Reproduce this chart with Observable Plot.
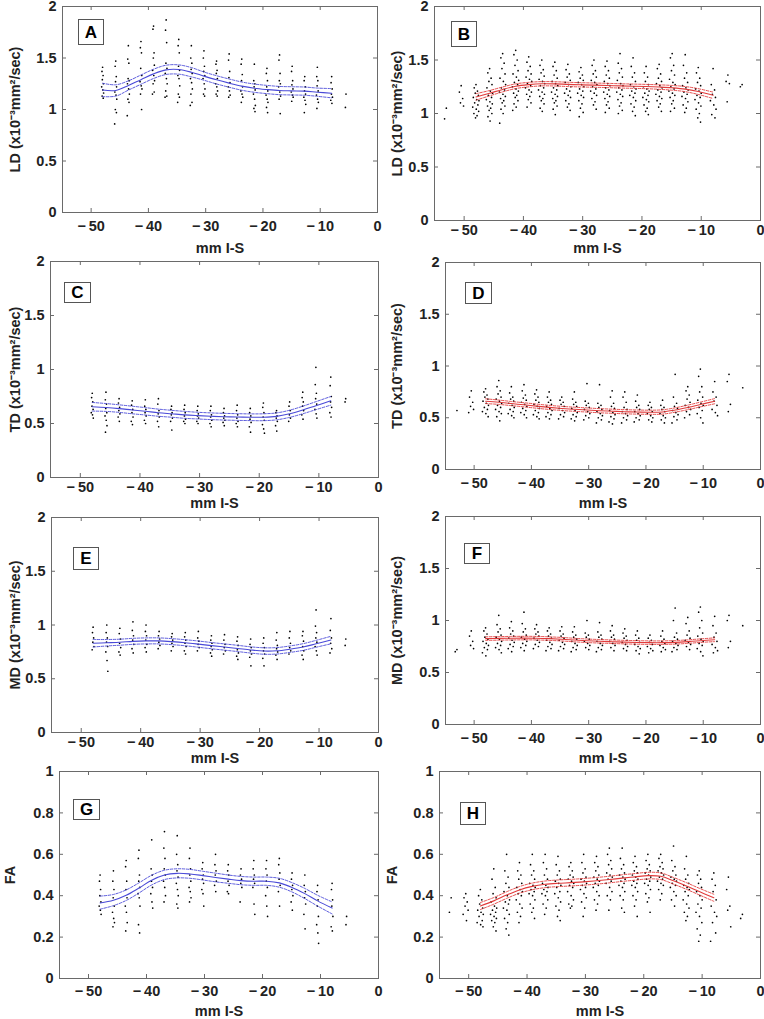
<!DOCTYPE html>
<html><head><meta charset="utf-8">
<script src="https://cdn.jsdelivr.net/npm/d3@7"></script>
<script src="https://cdn.jsdelivr.net/npm/@observablehq/plot@0.6"></script>
<style>
html,body{margin:0;padding:0;background:#fff;overflow:hidden}
#fig{position:relative;width:764px;height:1019px;overflow:hidden;font-family:"Liberation Sans",Arial,sans-serif}
#fig svg{position:absolute}
.tag{position:absolute;box-sizing:border-box;border:1px solid #555;background:#fff;font-weight:bold;font-size:17px;display:flex;align-items:center;justify-content:center;color:#000;line-height:1}
</style></head><body><div id="fig"></div>
<script>
// ---------- data ----------
const xTicks = [-50, -40, -30, -20, -10, 0];
const yTicksDiff = [0, 0.5, 1, 1.5, 2];
const yTicksFA = [0, 0.2, 0.4, 0.6, 0.8, 1];
const xLabel = "mm I-S";
const labelLD = "LD (x10⁻³mm²/sec)";
const labelTD = "TD (x10⁻³mm²/sec)";
const labelMD = "MD (x10⁻³mm²/sec)";
const labelFA = "FA";
const panelLetters = ["A", "B", "C", "D", "E", "F", "G", "H"];

// fitted curve sample positions (mm I-S)
const fitX = [-48,-45.7,-43.5,-41.3,-39.1,-36.9,-34.7,-32.5,-30.3,-28.1,-25.9,-23.7,-21.5,-19.3,-17.1,-14.9,-12.7,-10.5,-8];

const fitMidA = [1.19,1.185,1.233,1.29,1.346,1.385,1.388,1.362,1.324,1.288,1.256,1.227,1.207,1.194,1.184,1.181,1.178,1.168,1.158];
const fitHiA  = [1.255,1.24,1.278,1.335,1.391,1.43,1.433,1.407,1.364,1.328,1.296,1.267,1.247,1.234,1.224,1.221,1.218,1.208,1.203];
const fitLoA  = [1.125,1.13,1.188,1.245,1.301,1.34,1.343,1.317,1.284,1.248,1.216,1.187,1.167,1.154,1.144,1.141,1.138,1.128,1.113];

const fitMidB = [1.155,1.19,1.225,1.255,1.27,1.278,1.277,1.272,1.268,1.265,1.262,1.258,1.255,1.252,1.247,1.24,1.228,1.205,1.17];
const fitHiB  = [1.185,1.215,1.248,1.277,1.291,1.298,1.297,1.292,1.288,1.285,1.282,1.278,1.275,1.272,1.268,1.262,1.252,1.232,1.2];
const fitLoB  = [1.125,1.165,1.202,1.233,1.249,1.258,1.257,1.252,1.248,1.245,1.242,1.238,1.235,1.232,1.226,1.218,1.204,1.178,1.14];

const fitMidC = [0.655,0.648,0.638,0.625,0.613,0.6,0.59,0.58,0.573,0.567,0.563,0.56,0.558,0.558,0.566,0.59,0.625,0.665,0.71];
const fitHiC  = [0.695,0.685,0.673,0.66,0.647,0.633,0.622,0.612,0.604,0.598,0.594,0.591,0.589,0.59,0.598,0.623,0.66,0.702,0.75];
const fitLoC  = [0.615,0.612,0.603,0.59,0.579,0.567,0.558,0.548,0.542,0.536,0.532,0.529,0.527,0.526,0.534,0.557,0.59,0.628,0.67];

const fitMidD = [0.66,0.65,0.637,0.625,0.612,0.6,0.59,0.582,0.575,0.568,0.563,0.558,0.555,0.553,0.556,0.575,0.6,0.628,0.66];
const fitHiD  = [0.683,0.671,0.657,0.645,0.632,0.62,0.61,0.602,0.595,0.588,0.583,0.578,0.575,0.573,0.577,0.596,0.622,0.651,0.685];
const fitLoD  = [0.637,0.629,0.617,0.605,0.592,0.58,0.57,0.562,0.555,0.548,0.543,0.538,0.535,0.533,0.535,0.554,0.578,0.605,0.635];

const fitMidE = [0.83,0.835,0.84,0.848,0.852,0.852,0.845,0.835,0.822,0.808,0.795,0.782,0.768,0.758,0.76,0.775,0.795,0.825,0.86];
const fitHiE  = [0.865,0.865,0.868,0.876,0.88,0.88,0.873,0.863,0.851,0.837,0.824,0.811,0.797,0.788,0.79,0.805,0.826,0.857,0.895];
const fitLoE  = [0.795,0.805,0.812,0.82,0.824,0.824,0.817,0.807,0.793,0.779,0.766,0.753,0.739,0.728,0.73,0.745,0.764,0.793,0.825];

const fitMidF = [0.826,0.828,0.83,0.831,0.83,0.826,0.82,0.812,0.805,0.8,0.796,0.792,0.789,0.787,0.787,0.79,0.797,0.806,0.815];
const fitHiF  = [0.843,0.845,0.847,0.848,0.847,0.843,0.837,0.829,0.822,0.817,0.813,0.809,0.806,0.804,0.804,0.807,0.814,0.823,0.833];
const fitLoF  = [0.809,0.811,0.813,0.814,0.813,0.809,0.803,0.795,0.788,0.783,0.779,0.775,0.772,0.77,0.77,0.773,0.78,0.789,0.797];

const fitMidG = [0.365,0.378,0.402,0.437,0.475,0.5,0.508,0.505,0.497,0.488,0.48,0.473,0.47,0.47,0.462,0.44,0.41,0.375,0.34];
const fitHiG  = [0.398,0.406,0.428,0.462,0.499,0.523,0.53,0.527,0.518,0.509,0.5,0.493,0.49,0.49,0.484,0.463,0.435,0.402,0.37];
const fitLoG  = [0.335,0.352,0.377,0.413,0.452,0.478,0.486,0.484,0.476,0.467,0.46,0.453,0.45,0.45,0.441,0.418,0.386,0.35,0.312];

const fitMidH = [0.35,0.375,0.403,0.428,0.445,0.455,0.46,0.463,0.467,0.472,0.478,0.485,0.491,0.497,0.494,0.472,0.447,0.42,0.39];
const fitHiH  = [0.367,0.391,0.419,0.444,0.461,0.471,0.476,0.479,0.483,0.488,0.494,0.501,0.507,0.513,0.51,0.488,0.463,0.436,0.407];
const fitLoH  = [0.333,0.359,0.387,0.412,0.429,0.439,0.444,0.447,0.451,0.456,0.462,0.469,0.475,0.481,0.478,0.456,0.431,0.404,0.373];

// scatter: [slice position (mm I-S), values measured in that slice]
const ptsA = [
 [-48,[1.41,1.37,1.33,1.29,1.25,1.22,1.19,1.16,1.13,1.11]],
 [-45.7,[1.47,1.42,1.32,1.27,1.22,1.17,1.14,1.1,1.0,0.97,0.86]],
 [-43.5,[1.62,1.49,1.45,1.3,1.28,1.25,1.2,1.15,1.1,1.07,0.94]],
 [-41.3,[1.66,1.6,1.55,1.4,1.33,1.27,1.23,1.2,1.15,1.0]],
 [-39.1,[1.81,1.78,1.55,1.5,1.43,1.38,1.33,1.28,1.25,1.17,1.15]],
 [-36.9,[1.87,1.77,1.65,1.45,1.4,1.35,1.3,1.25,1.18,1.13,1.12]],
 [-34.7,[1.68,1.62,1.55,1.42,1.38,1.33,1.3,1.23,1.15,1.12,1.07]],
 [-32.5,[1.62,1.5,1.45,1.39,1.35,1.3,1.26,1.2,1.15,1.07,1.04]],
 [-30.3,[1.57,1.5,1.42,1.37,1.33,1.3,1.25,1.2,1.15,1.13]],
 [-28.1,[1.47,1.44,1.38,1.35,1.3,1.25,1.22,1.18,1.15,1.13]],
 [-25.9,[1.54,1.48,1.37,1.31,1.26,1.22,1.18,1.14,1.12]],
 [-23.7,[1.49,1.44,1.34,1.28,1.22,1.18,1.15,1.12,1.07]],
 [-21.5,[1.44,1.28,1.25,1.22,1.19,1.15,1.1,1.04,1.01,0.98]],
 [-19.3,[1.4,1.35,1.28,1.22,1.18,1.14,1.1,1.07,1.02,0.97]],
 [-17.1,[1.53,1.48,1.35,1.28,1.25,1.22,1.17,1.13,1.1,0.96]],
 [-14.9,[1.42,1.37,1.28,1.24,1.2,1.17,1.14,1.12,1.08]],
 [-12.7,[1.32,1.28,1.22,1.18,1.15,1.12,1.09,1.05,0.97]],
 [-10.5,[1.41,1.32,1.28,1.23,1.18,1.14,1.1,1.07,1.01]],
 [-8,[1.32,1.26,1.2,1.15,1.12,1.09,1.06]],
 [-5.5,[1.15,1.02]]
];
const ptsB = [
 [-53,[1.05,0.95]],
 [-50.5,[1.26,1.2,1.14,1.1,1.07]],
 [-48,[1.27,1.24,1.21,1.19,1.17,1.15,1.13,1.12,1.1,1.08,1.06,1.04,1.02,1.0,0.98,0.96]],
 [-45.7,[1.42,1.38,1.33,1.3,1.27,1.24,1.21,1.19,1.17,1.15,1.13,1.11,1.09,1.07,1.05,1.03,1.0,0.97,0.93]],
 [-43.5,[1.56,1.52,1.47,1.42,1.37,1.33,1.3,1.27,1.24,1.22,1.2,1.18,1.16,1.14,1.12,1.1,1.07,1.04,1.0,0.91]],
 [-41.3,[1.59,1.55,1.5,1.45,1.4,1.37,1.34,1.31,1.29,1.27,1.25,1.23,1.21,1.19,1.17,1.15,1.12,1.09,1.06,1.03]],
 [-39.1,[1.53,1.48,1.44,1.4,1.37,1.34,1.32,1.3,1.28,1.26,1.24,1.22,1.2,1.18,1.16,1.13,1.1,1.06]],
 [-36.9,[1.5,1.45,1.41,1.38,1.35,1.32,1.3,1.28,1.26,1.24,1.22,1.2,1.18,1.16,1.14,1.12,1.09,1.05,1.02]],
 [-34.7,[1.48,1.44,1.4,1.36,1.33,1.3,1.28,1.26,1.24,1.22,1.2,1.18,1.16,1.14,1.12,1.1,1.07,1.04,0.99]],
 [-32.5,[1.46,1.41,1.37,1.34,1.31,1.29,1.27,1.25,1.23,1.21,1.19,1.17,1.15,1.12,1.09,1.06,1.03]],
 [-30.3,[1.43,1.39,1.36,1.33,1.31,1.29,1.27,1.25,1.23,1.21,1.19,1.17,1.15,1.12,1.09,1.05,1.01,0.97]],
 [-28.1,[1.5,1.45,1.4,1.37,1.34,1.31,1.29,1.27,1.25,1.23,1.21,1.19,1.17,1.14,1.11,1.08,1.04]],
 [-25.9,[1.49,1.44,1.4,1.36,1.33,1.3,1.28,1.26,1.24,1.22,1.2,1.18,1.16,1.14,1.11,1.08,1.05,1.01]],
 [-23.7,[1.56,1.47,1.42,1.38,1.34,1.31,1.28,1.26,1.24,1.22,1.2,1.18,1.16,1.13,1.1,1.07,1.03,1.0]],
 [-21.5,[1.52,1.44,1.38,1.34,1.3,1.27,1.25,1.23,1.21,1.19,1.17,1.15,1.12,1.09,1.06,1.02,0.98]],
 [-19.3,[1.44,1.38,1.34,1.3,1.27,1.25,1.23,1.21,1.19,1.17,1.15,1.13,1.11,1.08,1.05,1.02,0.99]],
 [-17.1,[1.46,1.42,1.37,1.33,1.3,1.28,1.26,1.24,1.22,1.2,1.18,1.16,1.14,1.12,1.09,1.06,1.02]],
 [-14.9,[1.56,1.52,1.45,1.4,1.36,1.32,1.29,1.27,1.25,1.23,1.21,1.19,1.17,1.15,1.12,1.09,1.05,1.02]],
 [-12.7,[1.55,1.45,1.38,1.33,1.29,1.26,1.24,1.22,1.2,1.18,1.16,1.14,1.11,1.08,1.05,1.01]],
 [-10.5,[1.43,1.38,1.33,1.29,1.26,1.23,1.21,1.19,1.17,1.15,1.13,1.1,1.07,1.04,1.0,0.96,0.92]],
 [-8,[1.42,1.27,1.22,1.18,1.15,1.12,1.08,1.04,0.99,0.96]],
 [-5.5,[1.36,1.3,1.28,1.11]],
 [-3.1,[1.27,1.25]]
];
const ptsC = [
 [-48,[0.78,0.74,0.7,0.66,0.63,0.6,0.58,0.55]],
 [-45.7,[0.79,0.72,0.68,0.64,0.6,0.57,0.53,0.48,0.42]],
 [-43.5,[0.73,0.69,0.65,0.62,0.59,0.56,0.52]],
 [-41.3,[0.71,0.67,0.63,0.6,0.56,0.52,0.49]],
 [-39.1,[0.72,0.66,0.63,0.6,0.57,0.53,0.5]],
 [-36.9,[0.73,0.68,0.62,0.59,0.56,0.52,0.47]],
 [-34.7,[0.66,0.63,0.6,0.58,0.55,0.52,0.44]],
 [-32.5,[0.67,0.63,0.6,0.57,0.54,0.52,0.5]],
 [-30.3,[0.66,0.62,0.59,0.57,0.55,0.52,0.5]],
 [-28.1,[0.66,0.62,0.58,0.56,0.53,0.5,0.47]],
 [-25.9,[0.64,0.6,0.57,0.55,0.53,0.51,0.48]],
 [-23.7,[0.67,0.62,0.58,0.55,0.52,0.5,0.47]],
 [-21.5,[0.64,0.6,0.57,0.54,0.51,0.47,0.42]],
 [-19.3,[0.69,0.65,0.6,0.56,0.53,0.49,0.45,0.41]],
 [-17.1,[0.62,0.6,0.57,0.55,0.52,0.48,0.43]],
 [-14.9,[0.7,0.66,0.62,0.58,0.55,0.52]],
 [-12.7,[0.79,0.74,0.7,0.66,0.62,0.58,0.54]],
 [-10.5,[1.02,0.86,0.78,0.73,0.68,0.63,0.59,0.55]],
 [-8,[0.93,0.85,0.75,0.7,0.65,0.6,0.56]],
 [-5.5,[0.73,0.7]]
];
const ptsD = [
 [-53,[0.57]],
 [-50.5,[0.76,0.7,0.65,0.61,0.58,0.55]],
 [-48,[0.78,0.75,0.72,0.7,0.68,0.66,0.64,0.62,0.6,0.58,0.56,0.54,0.51]],
 [-45.7,[0.86,0.8,0.76,0.73,0.7,0.68,0.66,0.64,0.62,0.6,0.58,0.56,0.54,0.51,0.47]],
 [-43.5,[0.8,0.74,0.7,0.68,0.66,0.64,0.62,0.6,0.58,0.56,0.54,0.52,0.5]],
 [-41.3,[0.82,0.76,0.72,0.69,0.67,0.65,0.63,0.61,0.59,0.57,0.55,0.53,0.5]],
 [-39.1,[0.77,0.73,0.7,0.67,0.65,0.63,0.61,0.59,0.57,0.55,0.53,0.51,0.49]],
 [-36.9,[0.75,0.7,0.67,0.65,0.63,0.61,0.59,0.57,0.55,0.53,0.51,0.49]],
 [-34.7,[0.7,0.67,0.65,0.63,0.61,0.59,0.57,0.55,0.53,0.51,0.49]],
 [-32.5,[0.75,0.68,0.65,0.63,0.61,0.59,0.57,0.55,0.53,0.51,0.49,0.47]],
 [-30.3,[0.83,0.66,0.64,0.62,0.6,0.58,0.56,0.54,0.52,0.5,0.48]],
 [-28.1,[0.82,0.64,0.62,0.6,0.58,0.56,0.54,0.52,0.5,0.48,0.45]],
 [-25.9,[0.76,0.7,0.64,0.61,0.59,0.57,0.55,0.53,0.51,0.49,0.46,0.44]],
 [-23.7,[0.75,0.7,0.65,0.6,0.58,0.56,0.54,0.52,0.5,0.48,0.45]],
 [-21.5,[0.72,0.66,0.62,0.6,0.58,0.56,0.54,0.52,0.5,0.48,0.46]],
 [-19.3,[0.65,0.62,0.6,0.58,0.56,0.54,0.52,0.5,0.48,0.46]],
 [-17.1,[0.67,0.62,0.6,0.58,0.56,0.54,0.52,0.5,0.48,0.45]],
 [-14.9,[0.92,0.7,0.64,0.61,0.59,0.57,0.55,0.53,0.51,0.48,0.45]],
 [-12.7,[0.8,0.76,0.72,0.68,0.65,0.62,0.6,0.58,0.56,0.53,0.5]],
 [-10.5,[0.97,0.9,0.8,0.75,0.7,0.67,0.64,0.62,0.6,0.57,0.54,0.5,0.45]],
 [-8,[0.85,0.75,0.7,0.66,0.62,0.58,0.55,0.52]],
 [-5.5,[0.92,0.85,0.63,0.56]],
 [-3.1,[0.79]]
];
const ptsE = [
 [-48,[0.98,0.93,0.88,0.84,0.8,0.77]],
 [-45.7,[1.0,0.93,0.88,0.84,0.8,0.75,0.67,0.57]],
 [-43.5,[0.97,0.92,0.87,0.83,0.79,0.75,0.72]],
 [-41.3,[1.03,0.95,0.9,0.86,0.82,0.78,0.74]],
 [-39.1,[1.0,0.94,0.9,0.86,0.82,0.79,0.75]],
 [-36.9,[0.94,0.9,0.87,0.84,0.81,0.78]],
 [-34.7,[0.92,0.89,0.86,0.83,0.8,0.76]],
 [-32.5,[0.93,0.89,0.86,0.83,0.8,0.76,0.73]],
 [-30.3,[0.94,0.88,0.85,0.82,0.79,0.76]],
 [-28.1,[0.9,0.86,0.83,0.8,0.77,0.74,0.71]],
 [-25.9,[0.91,0.86,0.82,0.79,0.76,0.73]],
 [-23.7,[0.89,0.85,0.81,0.77,0.74,0.71,0.68]],
 [-21.5,[0.87,0.82,0.79,0.76,0.73,0.7,0.62]],
 [-19.3,[0.88,0.83,0.79,0.76,0.73,0.69,0.62]],
 [-17.1,[0.93,0.86,0.81,0.78,0.75,0.72,0.68]],
 [-14.9,[0.94,0.88,0.83,0.79,0.76,0.73]],
 [-12.7,[0.94,0.9,0.85,0.8,0.76,0.72,0.68]],
 [-10.5,[1.14,0.99,0.93,0.88,0.84,0.8,0.76,0.72]],
 [-8,[1.06,0.95,0.88,0.83,0.78,0.74]],
 [-5.5,[0.87,0.81]]
];
const ptsF = [
 [-53,[0.72,0.7]],
 [-50.5,[0.9,0.85,0.8,0.76,0.73]],
 [-48,[0.93,0.9,0.87,0.84,0.82,0.8,0.78,0.76,0.74,0.72,0.69,0.66]],
 [-45.7,[1.05,0.96,0.92,0.89,0.86,0.84,0.82,0.8,0.78,0.76,0.74,0.72,0.69]],
 [-43.5,[0.99,0.93,0.9,0.87,0.85,0.83,0.81,0.79,0.77,0.75,0.73,0.7]],
 [-41.3,[1.08,0.97,0.92,0.89,0.86,0.84,0.82,0.8,0.78,0.76,0.74,0.71]],
 [-39.1,[0.96,0.92,0.89,0.87,0.85,0.83,0.81,0.79,0.77,0.75,0.73]],
 [-36.9,[0.93,0.9,0.87,0.85,0.83,0.81,0.79,0.77,0.75,0.73,0.71]],
 [-34.7,[0.94,0.9,0.87,0.85,0.83,0.81,0.79,0.77,0.75,0.73,0.71]],
 [-32.5,[0.94,0.89,0.86,0.84,0.82,0.8,0.78,0.76,0.74,0.72,0.7]],
 [-30.3,[1.0,0.88,0.86,0.84,0.82,0.8,0.78,0.76,0.74,0.72]],
 [-28.1,[0.98,0.89,0.86,0.84,0.82,0.8,0.78,0.76,0.74,0.72,0.7]],
 [-25.9,[0.95,0.9,0.86,0.84,0.82,0.8,0.78,0.76,0.74,0.71]],
 [-23.7,[0.92,0.88,0.85,0.83,0.81,0.79,0.77,0.75,0.73,0.71]],
 [-21.5,[0.9,0.86,0.83,0.81,0.79,0.77,0.75,0.73,0.71,0.68]],
 [-19.3,[0.86,0.83,0.81,0.79,0.77,0.75,0.73,0.71,0.69]],
 [-17.1,[0.9,0.85,0.82,0.8,0.78,0.76,0.74,0.72,0.7]],
 [-14.9,[1.12,1.0,0.88,0.84,0.82,0.8,0.78,0.76,0.74,0.72,0.7]],
 [-12.7,[1.03,0.97,0.9,0.86,0.83,0.81,0.79,0.77,0.75,0.72]],
 [-10.5,[1.13,1.08,1.0,0.93,0.88,0.85,0.82,0.8,0.78,0.76,0.73,0.7,0.66]],
 [-8,[1.04,0.95,0.88,0.84,0.8,0.77,0.74,0.71,0.69]],
 [-5.5,[1.05,1.0,0.8,0.74]],
 [-3.1,[0.95]]
];
const ptsG = [
 [-48,[0.5,0.47,0.43,0.4,0.37,0.35,0.33,0.31]],
 [-45.7,[0.52,0.47,0.43,0.39,0.35,0.32,0.29,0.27,0.25]],
 [-43.5,[0.57,0.54,0.47,0.43,0.39,0.35,0.32,0.27,0.23]],
 [-41.3,[0.62,0.58,0.5,0.47,0.44,0.41,0.39,0.35,0.26,0.22]],
 [-39.1,[0.67,0.53,0.5,0.47,0.44,0.41,0.37,0.34]],
 [-36.9,[0.71,0.63,0.58,0.53,0.5,0.47,0.44,0.4,0.37]],
 [-34.7,[0.69,0.6,0.55,0.52,0.49,0.46,0.43,0.4,0.36,0.34]],
 [-32.5,[0.63,0.58,0.53,0.5,0.47,0.44,0.42,0.39,0.37]],
 [-30.3,[0.56,0.53,0.5,0.48,0.46,0.43,0.41,0.35]],
 [-28.1,[0.6,0.55,0.52,0.5,0.47,0.45,0.42]],
 [-25.9,[0.55,0.52,0.5,0.47,0.45,0.42,0.41]],
 [-23.7,[0.53,0.5,0.48,0.46,0.44,0.37]],
 [-21.5,[0.57,0.53,0.5,0.48,0.46,0.44,0.36,0.31]],
 [-19.3,[0.57,0.53,0.5,0.47,0.44,0.4,0.35,0.3]],
 [-17.1,[0.58,0.55,0.51,0.48,0.45,0.42,0.35]],
 [-14.9,[0.51,0.48,0.45,0.43,0.4,0.37,0.33]],
 [-12.7,[0.5,0.45,0.42,0.39,0.36,0.31,0.24]],
 [-10.5,[0.45,0.42,0.38,0.35,0.3,0.26,0.22,0.17]],
 [-8,[0.46,0.43,0.38,0.35,0.3,0.25,0.23]],
 [-5.5,[0.3,0.26]]
];
const ptsH = [
 [-53,[0.39,0.32]],
 [-50.5,[0.41,0.39,0.37,0.35,0.33,0.31,0.28]],
 [-48,[0.43,0.4,0.38,0.36,0.34,0.33,0.32,0.31,0.3,0.28,0.27,0.26,0.25]],
 [-45.7,[0.53,0.48,0.44,0.41,0.39,0.37,0.35,0.34,0.33,0.32,0.31,0.3,0.29,0.28,0.27,0.25,0.23]],
 [-43.5,[0.6,0.52,0.49,0.46,0.44,0.42,0.4,0.38,0.37,0.36,0.34,0.33,0.31,0.29,0.27,0.24,0.21]],
 [-41.3,[0.56,0.52,0.5,0.48,0.46,0.44,0.43,0.42,0.41,0.4,0.38,0.36,0.34,0.32,0.3,0.27]],
 [-39.1,[0.6,0.55,0.52,0.5,0.48,0.46,0.45,0.44,0.43,0.42,0.41,0.4,0.38,0.36,0.34,0.32,0.29]],
 [-36.9,[0.6,0.56,0.53,0.5,0.48,0.46,0.45,0.44,0.43,0.42,0.41,0.4,0.38,0.36,0.34,0.31]],
 [-34.7,[0.59,0.55,0.52,0.5,0.48,0.47,0.46,0.45,0.44,0.42,0.41,0.39,0.37,0.35,0.33,0.3,0.28]],
 [-32.5,[0.56,0.54,0.52,0.5,0.49,0.48,0.47,0.46,0.45,0.44,0.42,0.4,0.38,0.36,0.35,0.34]],
 [-30.3,[0.6,0.56,0.53,0.51,0.49,0.48,0.47,0.46,0.45,0.44,0.43,0.41,0.39,0.37,0.34,0.3]],
 [-28.1,[0.59,0.56,0.54,0.52,0.5,0.49,0.48,0.47,0.46,0.45,0.44,0.42,0.4,0.38,0.36,0.33]],
 [-25.9,[0.63,0.6,0.57,0.55,0.53,0.51,0.5,0.49,0.48,0.47,0.46,0.44,0.42,0.4,0.38,0.33]],
 [-23.7,[0.63,0.58,0.55,0.53,0.51,0.5,0.49,0.48,0.47,0.46,0.45,0.44,0.42,0.4,0.38,0.34,0.32]],
 [-21.5,[0.59,0.56,0.54,0.52,0.51,0.5,0.49,0.48,0.47,0.46,0.45,0.44,0.42,0.4,0.38,0.35,0.3]],
 [-19.3,[0.6,0.57,0.55,0.53,0.52,0.51,0.5,0.49,0.48,0.47,0.46,0.45,0.43,0.41,0.39,0.37,0.32]],
 [-17.1,[0.6,0.58,0.56,0.54,0.53,0.52,0.51,0.5,0.49,0.48,0.47,0.46,0.45,0.43,0.41,0.38]],
 [-14.9,[0.64,0.57,0.54,0.52,0.5,0.49,0.48,0.47,0.46,0.45,0.44,0.42,0.4,0.38,0.35]],
 [-12.7,[0.59,0.53,0.5,0.48,0.46,0.45,0.44,0.43,0.42,0.4,0.38,0.36,0.34,0.32,0.3,0.28]],
 [-10.5,[0.52,0.5,0.48,0.46,0.44,0.42,0.4,0.38,0.36,0.34,0.32,0.3,0.27,0.24,0.21,0.18]],
 [-8,[0.51,0.48,0.45,0.42,0.38,0.35,0.32,0.3,0.27,0.22,0.18]],
 [-5.5,[0.49,0.43,0.35,0.33,0.25]],
 [-3.1,[0.31,0.29]]
];
// within-slice horizontal scatter pattern (mm), as seen in the slice columns
const sliceSpread = [0,-0.3,0.25,-0.12,0.4,-0.45,0.12,0.5,-0.22,0.32,-0.55,0.05,0.45,-0.35,0.18,-0.08,0.38,-0.28,0.08,-0.5,0.22,-0.18];

// ---------- layout (page pixels) ----------
const BLUE = "#4a4ad8", RED = "#e23b3b";
const panels = [
 {letter:"A", pts:ptsA, mid:fitMidA, hi:fitHiA, lo:fitLoA, color:BLUE, label:labelLD, yTicks:yTicksDiff, frame:[62,6,377,212], xPad:8, xLabY:248, yLabX:15, tag:[78,19,26,26], spread:0.35},
 {letter:"B", pts:ptsB, mid:fitMidB, hi:fitHiB, lo:fitLoB, color:RED, label:labelLD, yTicks:yTicksDiff, frame:[434,6,760,220], xPad:4.5, xLabY:248, yLabX:397, tag:[451,21,26,26], spread:1},
 {letter:"C", pts:ptsC, mid:fitMidC, hi:fitHiC, lo:fitLoC, color:BLUE, label:labelTD, yTicks:yTicksDiff, frame:[50,261,378,477], xPad:4.5, xLabY:503, yLabX:15, tag:[64,282,27,21], spread:0.35},
 {letter:"D", pts:ptsD, mid:fitMidD, hi:fitHiD, lo:fitLoD, color:RED, label:labelTD, yTicks:yTicksDiff, frame:[445,262,760,469], xPad:8, xLabY:503, yLabX:397, tag:[465,282,27,22], spread:1},
 {letter:"E", pts:ptsE, mid:fitMidE, hi:fitHiE, lo:fitLoE, color:BLUE, label:labelMD, yTicks:yTicksDiff, frame:[51,517,378,732], xPad:4.5, xLabY:758, yLabX:15, tag:[73,547,26,23], spread:0.35},
 {letter:"F", pts:ptsF, mid:fitMidF, hi:fitHiF, lo:fitLoF, color:RED, label:labelMD, yTicks:yTicksDiff, frame:[445,516,760,724], xPad:8, xLabY:758, yLabX:397, tag:[464,543,26,21], spread:1},
 {letter:"G", pts:ptsG, mid:fitMidG, hi:fitHiG, lo:fitLoG, color:BLUE, label:labelFA, yTicks:yTicksFA, frame:[59,771,378,978], xPad:7, xLabY:1011, yLabX:10, tag:[73,799,27,21], spread:0.35},
 {letter:"H", pts:ptsH, mid:fitMidH, hi:fitHiH, lo:fitLoH, color:RED, label:labelFA, yTicks:yTicksFA, frame:[439,771,760,978], xPad:7, xLabY:1011, yLabX:392, tag:[460,802,26,23], spread:1}
];

const fig = document.getElementById("fig");
const fmtX = d => d < 0 ? "\u2212\u2009" + Math.abs(d) : String(d);
const TOPPAD = 12, BOTPAD = 52, COLW = 382;

for (const p of panels) {
  const [l, t, r, b] = p.frame;
  const colX = l < COLW ? 0 : COLW;
  const innerW = r - l, innerH = b - t;
  const dots = p.pts.flatMap(([x, ys]) => ys.map((y, i) => ({x: x + sliceSpread[i % sliceSpread.length] * p.spread, y})));
  const fit = fitX.map((x, i) => ({x, mid: p.mid[i], hi: p.hi[i], lo: p.lo[i]}));
  const yMax = p.yTicks[p.yTicks.length - 1];
  const svg = Plot.plot({
    width: COLW,
    height: innerH + TOPPAD + BOTPAD,
    marginLeft: l - colX,
    marginRight: colX + COLW - r,
    marginTop: TOPPAD,
    marginBottom: BOTPAD,
    x: {domain: [-55, 0]},
    y: {domain: [0, yMax]},
    style: {fontFamily: "'Liberation Sans', Arial, sans-serif", fontSize: "14.5px", fontWeight: "bold", color: "#222", background: "transparent", overflow: "visible"},
    marks: [
      Plot.dot(dots, {x: "x", y: "y", r: 0.85, fill: "#000", stroke: "none"}),
      Plot.line(fit, {x: "x", y: "hi", stroke: p.color, strokeWidth: 0.9, strokeDasharray: "2.5,1.5", curve: "catmull-rom"}),
      Plot.line(fit, {x: "x", y: "lo", stroke: p.color, strokeWidth: 0.9, strokeDasharray: "2.5,1.5", curve: "catmull-rom"}),
      Plot.line(fit, {x: "x", y: "mid", stroke: p.color, strokeWidth: 1.1, curve: "catmull-rom"}),
      Plot.frame({stroke: "#6a6a6a"}),
      Plot.tickX(xTicks, {x: d => d, insetTop: innerH - 4, stroke: "#6a6a6a"}),
      Plot.tickX(xTicks, {x: d => d, insetBottom: innerH - 4, stroke: "#6a6a6a"}),
      Plot.tickY(p.yTicks, {y: d => d, insetRight: innerW - 4, stroke: "#6a6a6a"}),
      Plot.tickY(p.yTicks, {y: d => d, insetLeft: innerW - 4, stroke: "#6a6a6a"}),
      Plot.axisX(xTicks, {tickSize: 0, tickPadding: p.xPad, tickFormat: fmtX, label: null}),
      Plot.axisY(p.yTicks, {tickSize: 0, tickPadding: 6, tickFormat: d => String(d), label: null}),
      Plot.text([xLabel], {text: d => d, frameAnchor: "bottom", dy: p.xLabY - b, lineAnchor: "middle"}),
      Plot.text([p.label], {text: d => d, frameAnchor: "left", dx: p.yLabX - l, rotate: -90, textAnchor: "middle", lineAnchor: "middle"})
    ]
  });
  svg.style.left = colX + "px";
  svg.style.top = (t - TOPPAD) + "px";
  fig.appendChild(svg);
}
for (const p of panels) {
  const [x, y, w, h] = p.tag;
  const d = document.createElement("div");
  d.className = "tag";
  d.style.left = x + "px"; d.style.top = y + "px"; d.style.width = w + "px"; d.style.height = h + "px";
  d.textContent = p.letter;
  fig.appendChild(d);
}
</script></body></html>
